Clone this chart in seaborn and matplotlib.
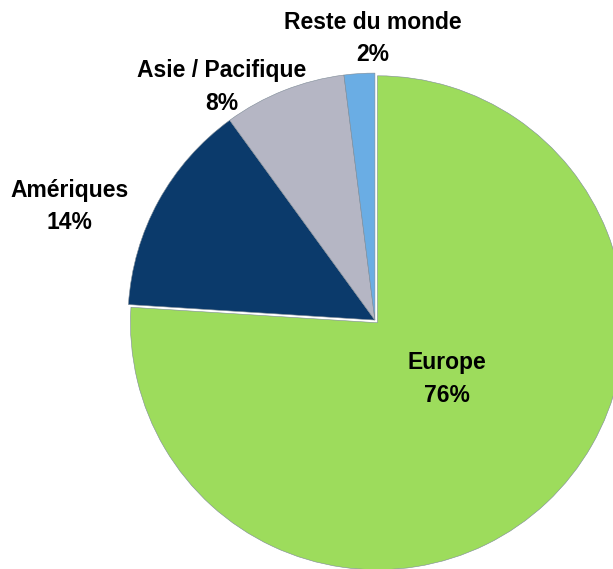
import numpy as np
import pandas as pd
import matplotlib
matplotlib.use('Agg')
import matplotlib.pyplot as plt
import seaborn as sns

regions = ['Europe', 'Amériques', 'Asie / Pacifique', 'Reste du monde']
shares = [76, 14, 8, 2]
colors = ['#9DDC5C', '#0B3A6B', '#B5B6C4', '#6AADE4']

# positions des étiquettes (coordonnées du graphique)
label_pos = [(0.29, -0.24), (-1.235, 0.46), (-0.619, 0.945), (-0.008, 1.14)]

df = pd.DataFrame({'region': regions, 'share': shares})

sns.set_style('white')
plt.rcParams['font.family'] = ['Liberation Sans', 'DejaVu Sans']

fig = plt.figure(figsize=(6.13, 5.69), dpi=100)
ax = fig.add_axes([0, 0, 1, 1])

wedges, _ = ax.pie(df['share'], colors=colors, startangle=90, counterclock=False,
                   explode=[0.015, 0, 0, 0], radius=1.0,
                   wedgeprops={'edgecolor': '#7d8a96', 'linewidth': 0.4})

for (x, y), reg, s in zip(label_pos, df['region'], df['share']):
    ax.text(x, y, f'{reg}\n{s}%', ha='center', va='center', fontsize=16.5,
            fontweight='bold', color='black', linespacing=1.55)

ax.set_xlim(-1.518, 0.964)
ax.set_ylim(-1.008, 1.296)
ax.set_aspect('equal')
ax.axis('off')

fig.savefig('out.png', dpi=100)
